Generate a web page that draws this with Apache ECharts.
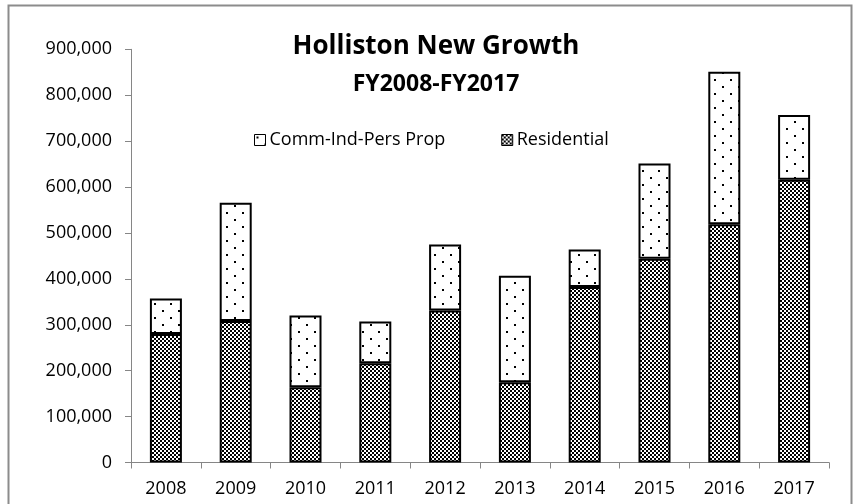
<!DOCTYPE html>
<html>
<head>
<meta charset="utf-8">
<script src="https://cdn.jsdelivr.net/npm/echarts@6/dist/echarts.min.js"></script>
<style>html,body{margin:0;padding:0;background:#fff}#c{width:854px;height:504px}</style>
</head>
<body>
<div id="c"></div>
<script>
const years = ['2008','2009','2010','2011','2012','2013','2014','2015','2016','2017'];
const residential = [280000, 308000, 164000, 216000, 331000, 175000, 382000, 444000, 519000, 616000];
const commIndPers = [77000, 258000, 156000, 91000, 144000, 232000, 82000, 207000, 332000, 141000];
const yTicks = [0, 100000, 200000, 300000, 400000, 500000, 600000, 700000, 800000, 900000];

function checkerPattern() {
  const c = document.createElement('canvas');
  c.width = 4; c.height = 4;
  const g = c.getContext('2d');
  g.fillStyle = '#fff'; g.fillRect(0, 0, 4, 4);
  g.fillStyle = '#000';
  g.fillRect(0, 0, 2, 2);
  g.fillRect(2, 2, 2, 2);
  return c;
}
function dotPattern() {
  const c = document.createElement('canvas');
  c.width = 16; c.height = 14;
  const g = c.getContext('2d');
  g.fillStyle = '#fff'; g.fillRect(0, 0, 16, 14);
  g.fillStyle = '#000';
  g.fillRect(2, 2, 2, 2);
  g.fillRect(10, 9, 2, 2);
  return c;
}
const resColor = { image: checkerPattern(), repeat: 'repeat' };
const comColor = { image: dotPattern(), repeat: 'repeat' };

const FONT = 'Open Sans';
const chart = echarts.init(document.getElementById('c'), null, { renderer: 'canvas' });
chart.setOption({
  animation: false,
  backgroundColor: '#fff',
  textStyle: { fontFamily: FONT, color: '#000' },
  graphic: [{
    type: 'rect', z: -1,
    shape: { x: 8.5, y: 5.5, width: 843, height: 520 },
    style: { fill: 'none', stroke: '#8c8c8c', lineWidth: 2 }
  }],
  title: [{
    text: 'Holliston New Growth',
    left: 431, top: 29, textAlign: 'center',
    textStyle: { fontFamily: FONT, fontWeight: 'bold', fontSize: 26, color: '#000' }
  }, {
    text: 'FY2008-FY2017',
    left: 431, top: 68, textAlign: 'center',
    textStyle: { fontFamily: FONT, fontWeight: 'bold', fontSize: 23, color: '#000' }
  }],
  legend: {
    data: ['Comm-Ind-Pers Prop', 'Residential'],
    left: 249, top: 126,
    icon: 'rect', itemWidth: 11, itemHeight: 11, itemGap: 56,
    itemStyle: { borderColor: '#000', borderWidth: 1 },
    textStyle: { fontFamily: FONT, fontSize: 18, color: '#000', padding: [0, 0, 0, -1] }
  },
  grid: { left: 131, right: 25, top: 49.3, bottom: 504 - 462.5 },
  xAxis: {
    type: 'category', data: years,
    axisLine: { lineStyle: { color: '#868686', width: 1 } },
    axisTick: { show: true, length: 6, lineStyle: { color: '#868686' } },
    axisLabel: { fontFamily: FONT, fontSize: 18, color: '#000', margin: 17 }
  },
  yAxis: {
    type: 'value', min: yTicks[0], max: yTicks[yTicks.length - 1], interval: yTicks[1] - yTicks[0],
    axisLine: { show: true, lineStyle: { color: '#868686', width: 1 } },
    axisTick: { show: true, length: 6, lineStyle: { color: '#868686' } },
    splitLine: { show: false },
    axisLabel: { fontFamily: FONT, fontSize: 18, color: '#000', margin: 19,
      formatter: v => v.toLocaleString('en-US') }
  },
  series: [{
    name: 'Residential', type: 'bar', stack: 'total', barWidth: 32,
    data: residential,
    itemStyle: { color: resColor, borderColor: '#000', borderWidth: 2 }
  }, {
    name: 'Comm-Ind-Pers Prop', type: 'bar', stack: 'total', barWidth: 32,
    data: commIndPers,
    itemStyle: { color: comColor, borderColor: '#000', borderWidth: 2 }
  }]
});
</script>
</body>
</html>
